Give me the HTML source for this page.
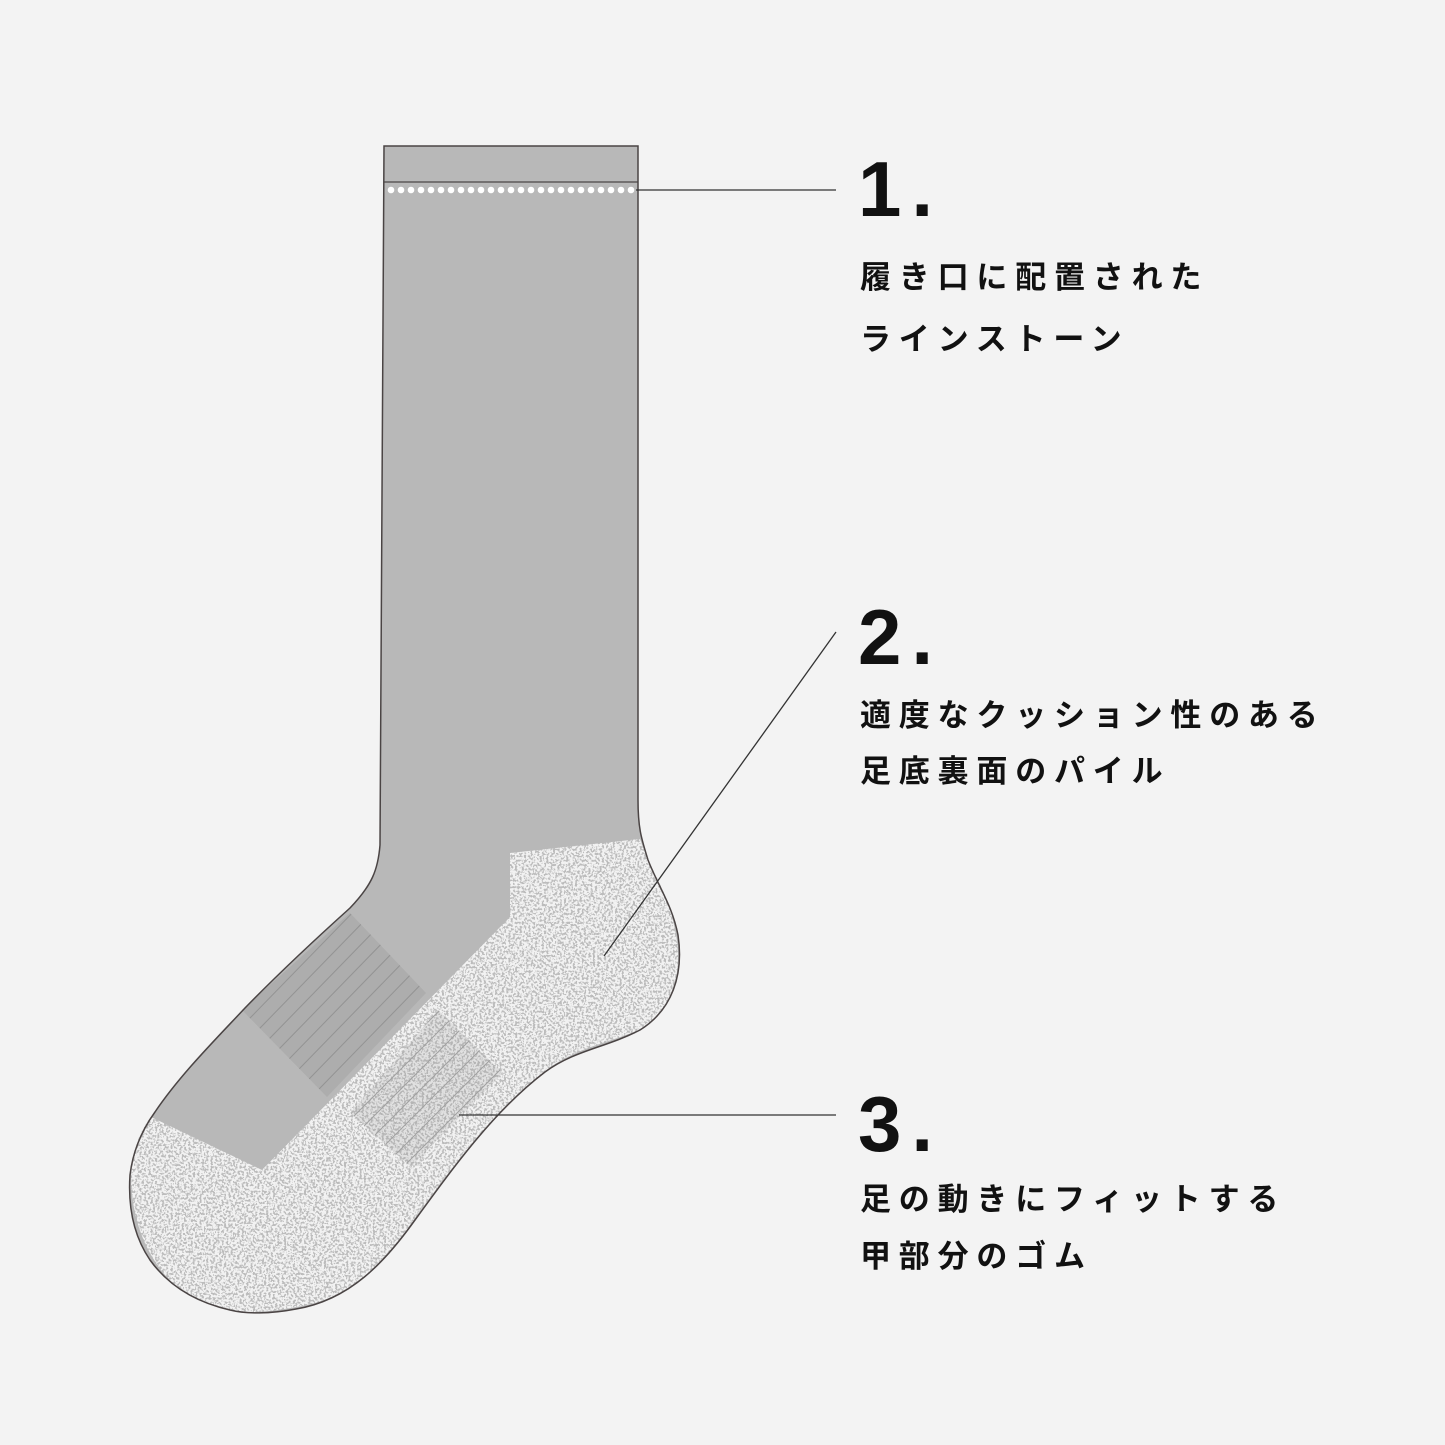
<!DOCTYPE html>
<html><head><meta charset="utf-8"><style>
html,body{margin:0;padding:0;background:#f3f3f3;}
.w{position:relative;width:1445px;height:1445px;overflow:hidden;}
.t{position:absolute;font-family:"Liberation Sans","Noto Sans CJK JP",sans-serif;font-weight:bold;color:#111;}
.n{font-size:78px;left:858px;line-height:1;letter-spacing:10px;}
.j{font-size:31px;left:860px;letter-spacing:7.8px;line-height:1;}
</style></head><body><div class="w">
<svg width="1445" height="1445" style="position:absolute;left:0;top:0">
<defs>
<filter id="sp" x="0" y="0" width="100%" height="100%">
<feTurbulence type="fractalNoise" baseFrequency="0.45" numOctaves="2" seed="3" result="n"/>
<feColorMatrix in="n" type="matrix" values="0 0 0 0 0  0 0 0 0 0  0 0 0 0 0  9 0 0 0 -4.3" result="a"/>
<feFlood flood-color="#bcbcbc" result="c"/>
<feComposite in="c" in2="a" operator="in" result="d"/>
<feFlood flood-color="#f2f2f2" result="bg"/>
<feMerge><feMergeNode in="bg"/><feMergeNode in="d"/></feMerge>
</filter>
<clipPath id="tc"><path d="M510,853 L640,839 C650,870 668,890 675,930 C685,975 670,1010 640,1030 C600,1045 570,1050 540,1075 C490,1115 450,1170 410,1225 C380,1270 345,1300 296,1307 C270,1312 246,1313 246,1313 C210,1308 180,1293 165,1275 C140,1245 132,1210 131,1180 C132,1150 140,1130 151,1117 L262,1170 L510,917 Z"/></clipPath>
<clipPath id="sc"><path d="M242,1010 L350,913 L426,993 L327,1097 Z"/></clipPath>
<clipPath id="sc2"><path d="M350,1113 L438,1010 L503,1073 L411,1167 Z"/></clipPath>
</defs>
<path d="M384,146 L638,146 L638,800 C638,830 642,840 648,860 C660,890 672,905 678,935 C684,975 672,1010 640,1030 C605,1048 575,1050 545,1072 C495,1110 455,1165 415,1220 C385,1262 350,1300 296,1309 C270,1314 246,1314 230,1310 C195,1302 168,1285 150,1260 C133,1235 128,1205 130,1175 C133,1150 142,1130 155,1112 C180,1075 215,1040 245,1008 C280,972 320,935 350,908 C372,885 378,870 380,845 Z" fill="#b8b8b8"/>
<rect x="0" y="800" width="700" height="520" filter="url(#sp)" clip-path="url(#tc)"/>
<g clip-path="url(#sc)"><rect x="200" y="880" width="260" height="240" fill="#adadad"/>
<g stroke="#939393" stroke-width="1">
<line x1="180" y1="1090" x2="360" y2="905"/><line x1="190" y1="1100" x2="370" y2="915"/><line x1="200" y1="1110" x2="380" y2="925"/><line x1="210" y1="1120" x2="390" y2="935"/><line x1="220" y1="1130" x2="400" y2="945"/><line x1="230" y1="1140" x2="410" y2="955"/><line x1="240" y1="1150" x2="420" y2="965"/><line x1="250" y1="1160" x2="430" y2="975"/><line x1="260" y1="1170" x2="440" y2="985"/><line x1="270" y1="1180" x2="450" y2="995"/><line x1="280" y1="1190" x2="460" y2="1005"/><line x1="290" y1="1200" x2="470" y2="1015"/>
</g></g>
<g clip-path="url(#sc2)"><rect x="340" y="1000" width="180" height="180" fill="#9a9a9a" opacity="0.2"/>
<g stroke="#a0a0a0" stroke-width="1">
<line x1="300" y1="1150" x2="460" y2="990"/><line x1="310" y1="1160" x2="470" y2="1000"/><line x1="320" y1="1170" x2="480" y2="1010"/><line x1="330" y1="1180" x2="490" y2="1020"/><line x1="340" y1="1190" x2="500" y2="1030"/><line x1="350" y1="1200" x2="510" y2="1040"/><line x1="360" y1="1210" x2="520" y2="1050"/><line x1="370" y1="1220" x2="530" y2="1060"/>
</g></g>
<path d="M384,146 L638,146 L638,800 C638,830 642,840 648,860 C660,890 672,905 678,935 C684,975 672,1010 640,1030 C605,1048 575,1050 545,1072 C495,1110 455,1165 415,1220 C385,1262 350,1300 296,1309 C270,1314 246,1314 230,1310 C195,1302 168,1285 150,1260 C133,1235 128,1205 130,1175 C133,1150 142,1130 155,1112 C180,1075 215,1040 245,1008 C280,972 320,935 350,908 C372,885 378,870 380,845 Z" fill="none" stroke="#4a4444" stroke-width="1.5"/>
<line x1="384" y1="182" x2="638" y2="182" stroke="#4a4444" stroke-width="1.2"/>
<g fill="#fff">
<circle cx="391" cy="190" r="3.3"/><circle cx="401" cy="190" r="3.3"/><circle cx="411" cy="190" r="3.3"/><circle cx="421" cy="190" r="3.3"/><circle cx="431" cy="190" r="3.3"/><circle cx="441" cy="190" r="3.3"/><circle cx="451" cy="190" r="3.3"/><circle cx="461" cy="190" r="3.3"/><circle cx="471" cy="190" r="3.3"/><circle cx="481" cy="190" r="3.3"/><circle cx="491" cy="190" r="3.3"/><circle cx="501" cy="190" r="3.3"/><circle cx="511" cy="190" r="3.3"/><circle cx="521" cy="190" r="3.3"/><circle cx="531" cy="190" r="3.3"/><circle cx="541" cy="190" r="3.3"/><circle cx="551" cy="190" r="3.3"/><circle cx="561" cy="190" r="3.3"/><circle cx="571" cy="190" r="3.3"/><circle cx="581" cy="190" r="3.3"/><circle cx="591" cy="190" r="3.3"/><circle cx="601" cy="190" r="3.3"/><circle cx="611" cy="190" r="3.3"/><circle cx="621" cy="190" r="3.3"/><circle cx="631" cy="190" r="3.3"/>
</g>
<g stroke="#333" stroke-width="1.3">
<line x1="636" y1="190" x2="836" y2="190"/>
<line x1="836" y1="632" x2="604" y2="956"/>
<line x1="459" y1="1115" x2="836" y2="1115"/>
</g>
</svg>
<div class="t n" style="top:150px">1.</div>
<div class="t j" style="top:262px">履き口に配置された</div>
<div class="t j" style="top:324px">ラインストーン</div>
<div class="t n" style="top:598px">2.</div>
<div class="t j" style="top:700px">適度なクッション性のある</div>
<div class="t j" style="top:756px">足底裏面のパイル</div>
<div class="t n" style="top:1085px">3.</div>
<div class="t j" style="top:1184px">足の動きにフィットする</div>
<div class="t j" style="top:1241px">甲部分のゴム</div>
</div></body></html>
